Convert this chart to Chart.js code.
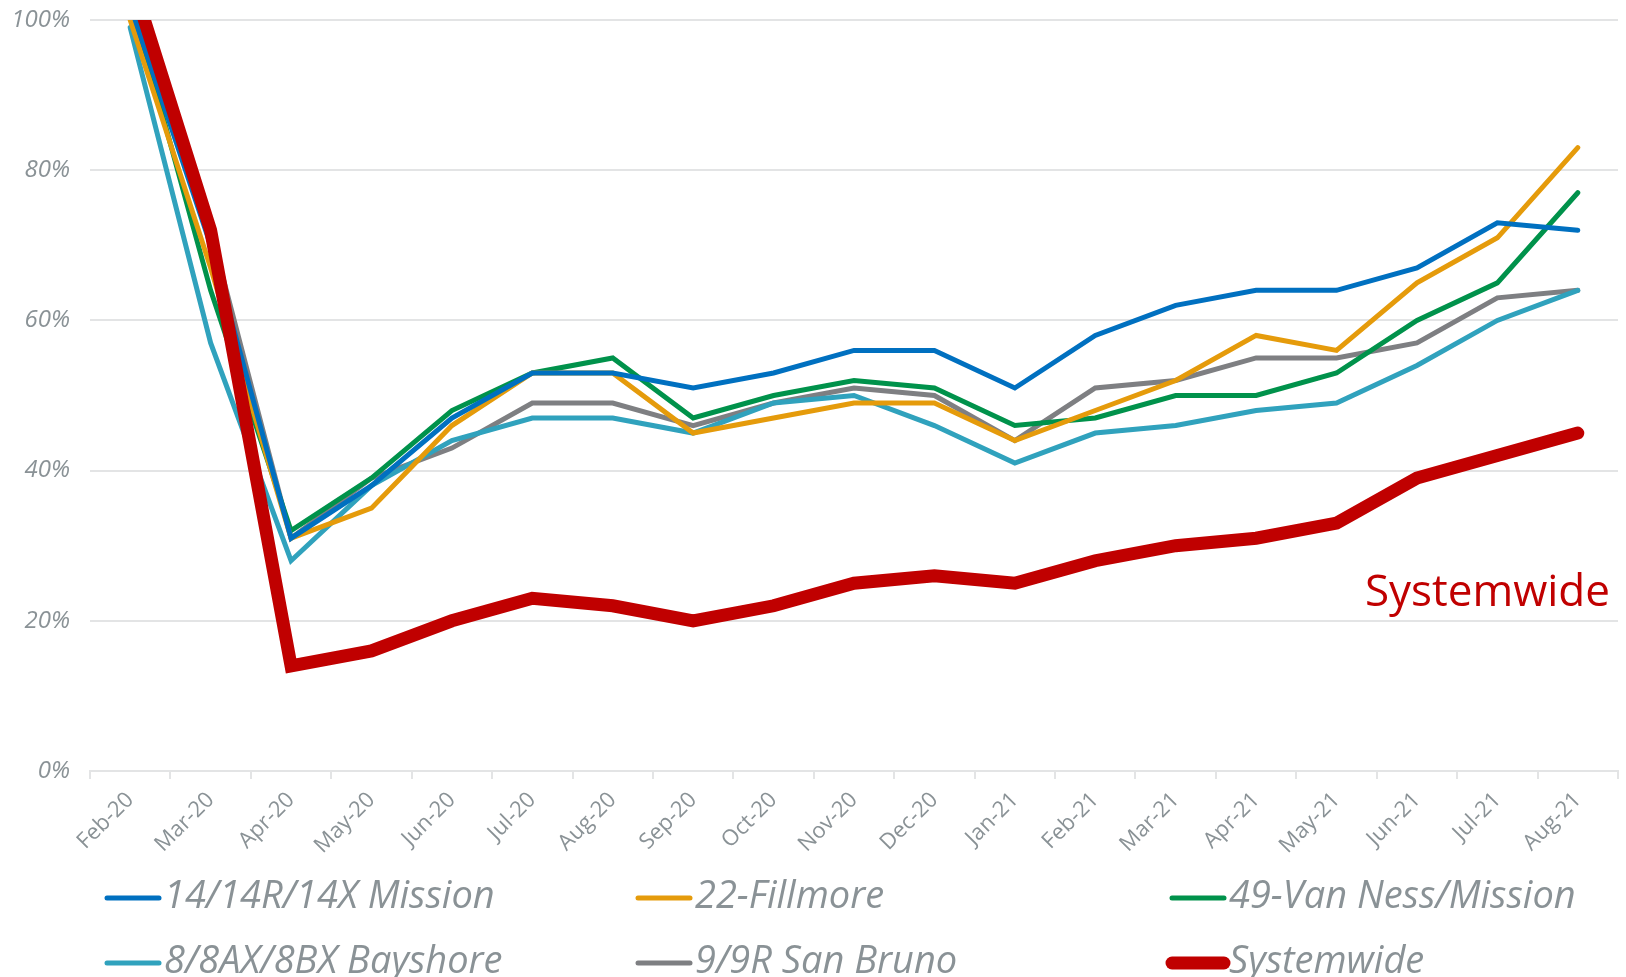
<!DOCTYPE html>
<html>
<head>
<meta charset="utf-8">
<title>Ridership recovery by route</title>
<script src="https://cdn.jsdelivr.net/npm/chart.js@4.4.0/dist/chart.umd.min.js"></script>
<style>
  html, body { margin: 0; padding: 0; background: #fff; }
  #wrap { position: relative; width: 1626px; height: 977px; }
</style>
</head>
<body>
<div id="wrap"><canvas id="ridership"></canvas></div>
<script>
// monthly ridership as a share of the pre-pandemic baseline
const months = ['Feb-20', 'Mar-20', 'Apr-20', 'May-20', 'Jun-20', 'Jul-20', 'Aug-20', 'Sep-20', 'Oct-20',
  'Nov-20', 'Dec-20', 'Jan-21', 'Feb-21', 'Mar-21', 'Apr-21', 'May-21', 'Jun-21', 'Jul-21', 'Aug-21'];

const mission14   = [102, 70, 31, 38, 47, 53, 53, 51, 53, 56, 56, 51, 58, 62, 64, 64, 67, 73, 72];
const fillmore22  = [100, 67, 31, 35, 46, 53, 53, 45, 47, 49, 49, 44, 48, 52, 58, 56, 65, 71, 83];
const vanNess49   = [103, 64, 32, 39, 48, 53, 55, 47, 50, 52, 51, 46, 47, 50, 50, 53, 60, 65, 77];
const bayshore8   = [99, 57, 28, 38, 44, 47, 47, 45, 49, 50, 46, 41, 45, 46, 48, 49, 54, 60, 64];
const sanBruno9   = [101, 72, 31, 39, 43, 49, 49, 46, 49, 51, 50, 44, 51, 52, 55, 55, 57, 63, 64];
const systemwide  = [106, 72, 14, 16, 20, 23, 22, 20, 22, 25, 26, 25, 28, 30, 31, 33, 39, 42, 45];

const yTicks = [0, 20, 40, 60, 80, 100];

const grey = '#8A9296';
const gridGrey = '#E3E4E5';

function route(label, data, color, width) {
  return {
    label: label,
    data: data,
    borderColor: color,
    backgroundColor: color,
    borderWidth: width,
    pointRadius: 0,
    pointHoverRadius: 0,
    tension: 0,
    clip: 0,
    borderCapStyle: 'round',
    order: width > 6 ? 0 : 1
  };
}

// legend laid out in three fixed columns under the axis
const gridLegend = {
  id: 'gridLegend',
  afterDraw(chart) {
    const ctx = chart.ctx;
    const cols = [107, 638, 1172];
    const rows = [898, 963];
    ctx.save();
    ctx.font = 'italic 38px "Open Sans"';
    ctx.textBaseline = 'middle';
    ctx.textAlign = 'left';
    chart.data.datasets.forEach((ds, i) => {
      const x = cols[i % 3];
      const y = rows[Math.floor(i / 3)];
      ctx.strokeStyle = ds.borderColor;
      ctx.lineCap = 'round';
      ctx.lineWidth = ds.borderWidth > 6 ? 13 : 5;
      ctx.beginPath();
      ctx.moveTo(x, y);
      ctx.lineTo(x + 52, y);
      ctx.stroke();
      ctx.fillStyle = grey;
      ctx.fillText(ds.label, x + 57, y - 1);
    });
    ctx.restore();
  }
};

// red callout naming the systemwide line
const systemLabel = {
  id: 'systemLabel',
  afterDatasetsDraw(chart) {
    const ctx = chart.ctx;
    const y = chart.scales.y.getPixelForValue(23.7);
    ctx.save();
    ctx.font = '44px "Open Sans"';
    ctx.fillStyle = '#C00000';
    ctx.textAlign = 'right';
    ctx.textBaseline = 'middle';
    ctx.fillText('Systemwide', chart.chartArea.right - 8, y);
    ctx.restore();
  }
};

new Chart(document.getElementById('ridership'), {
  type: 'line',
  data: {
    labels: months,
    datasets: [
      route('14/14R/14X Mission', mission14, '#0070C0', 5),
      route('22-Fillmore', fillmore22, '#E59B0B', 5),
      route('49-Van Ness/Mission', vanNess49, '#00924B', 5),
      route('8/8AX/8BX Bayshore', bayshore8, '#30A2BD', 5),
      route('9/9R San Bruno', sanBruno9, '#7E7F82', 5),
      route('Systemwide', systemwide, '#C00000', 13)
    ]
  },
  options: {
    responsive: true,
    maintainAspectRatio: false,
    animation: false,
    layout: { padding: { top: 20, right: 8, left: 0, bottom: 0 } },
    plugins: {
      legend: { display: false },
      tooltip: { enabled: false }
    },
    scales: {
      x: {
        offset: true,
        grid: {
          offset: true,
          drawOnChartArea: false,
          drawTicks: true,
          tickLength: 8,
          color: gridGrey,
          lineWidth: 2
        },
        border: { display: true, color: gridGrey, width: 2 },
        ticks: {
          color: grey,
          font: { family: 'Open Sans', size: 22 },
          minRotation: 45,
          maxRotation: 45,
          padding: 8,
          autoSkip: false
        },
        afterFit(scale) {
          scale.height = 206;
          scale.paddingLeft = 0;
          scale.paddingRight = 0;
        }
      },
      y: {
        min: 0,
        max: 100,
        afterBuildTicks(scale) { scale.ticks = yTicks.map(v => ({ value: v })); },
        grid: { color: gridGrey, lineWidth: 2, drawTicks: false },
        border: { display: false },
        ticks: {
          color: grey,
          padding: 20,
          font: { family: 'Open Sans', style: 'italic', size: 24 },
          callback: v => v + '%'
        },
        afterFit(scale) {
          scale.width = 90;
          scale.paddingTop = 0;
          scale.paddingBottom = 0;
        }
      }
    }
  },
  plugins: [systemLabel, gridLegend]
});
</script>
</body>
</html>
